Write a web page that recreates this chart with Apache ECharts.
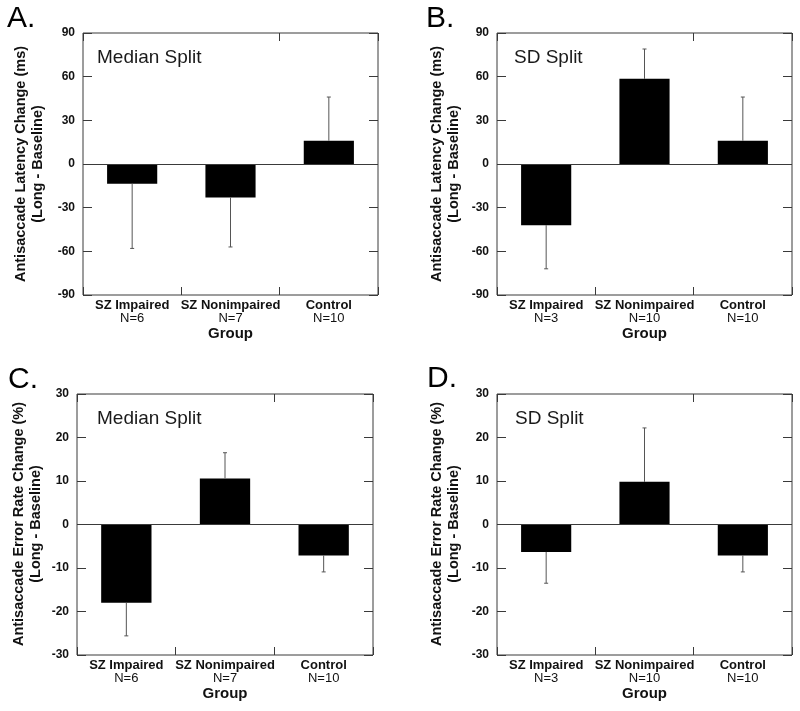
<!DOCTYPE html>
<html>
<head>
<meta charset="utf-8">
<script src="https://cdn.jsdelivr.net/npm/echarts@6/dist/echarts.min.js"></script>
<style>
html,body{margin:0;padding:0;background:#fff;}
#chart{width:800px;height:711px;}
</style>
</head>
<body>
<div id="chart"></div>
<script>
// ---- data ----
const groups = ['SZ Impaired', 'SZ Nonimpaired', 'Control'];
const nMedian = ['N=6', 'N=7', 'N=10'];
const nSD = ['N=3', 'N=10', 'N=10'];

const latencyMedianMean = [-13.5, -23, 16];
const latencyMedianErr = [44.5, 34, 30];
const latencySDMean = [-42, 58.5, 16];
const latencySDErr = [30, 20.5, 30];

const errorMedianMean = [-18, 10.6, -7.1];
const errorMedianErr = [7.6, 5.9, 3.8];
const errorSDMean = [-6.3, 9.8, -7.1];
const errorSDErr = [7.2, 12.4, 3.8];

const latencyAxis = { min: -90, max: 90, interval: 30 };
const errorAxis = { min: -30, max: 30, interval: 10 };

const panelLetters = ['A.', 'B.', 'C.', 'D.'];
const panelTitles = ['Median Split', 'SD Split', 'Median Split', 'SD Split'];
const yTitles = [
  'Antisaccade Latency Change (ms)\n(Long - Baseline)',
  'Antisaccade Latency Change (ms)\n(Long - Baseline)',
  'Antisaccade Error Rate Change (%)\n(Long - Baseline)',
  'Antisaccade Error Rate Change (%)\n(Long - Baseline)'
];
const xTitle = 'Group';

// ---- layout ----
const FONT = 'Liberation Sans, Arial, Helvetica, sans-serif';
const grids = [
  { left: 83, top: 33, width: 295, height: 262 },
  { left: 497, top: 33, width: 295, height: 262 },
  { left: 77, top: 394, width: 296, height: 261 },
  { left: 497, top: 394, width: 295, height: 261 }
];
const panels = [
  { mean: latencyMedianMean, err: latencyMedianErr, n: nMedian, axis: latencyAxis },
  { mean: latencySDMean, err: latencySDErr, n: nSD, axis: latencyAxis },
  { mean: errorMedianMean, err: errorMedianErr, n: nMedian, axis: errorAxis },
  { mean: errorSDMean, err: errorSDErr, n: nSD, axis: errorAxis }
];
const letterPos = [[7, 19], [426, 18.5], [8, 379.5], [427, 379]];
const titlePos = [[97, 57.5], [514, 57.5], [97, 419], [515, 419]];
const yTitlePos = [[29.5, 164], [445, 164], [27, 524], [445.5, 524]];

const lineColor = '#3a3a3a';
const textColor = '#111';

const option = {
  animation: false,
  backgroundColor: '#fff',
  grid: grids.map(g => Object.assign({ show: true, borderColor: lineColor, borderWidth: 1, backgroundColor: 'transparent' }, g)),
  xAxis: [],
  yAxis: [],
  series: [],
  graphic: []
};

panels.forEach((p, i) => {
  // bottom category axis with labels
  option.xAxis.push({
    type: 'category', gridIndex: i, data: groups, position: 'bottom',
    axisLine: { show: false, onZero: false },
    axisTick: { show: true, inside: true, length: 8, lineStyle: { color: lineColor } },
    axisLabel: {
      margin: 4,
      interval: 0,
      color: textColor,
      fontFamily: FONT,
      formatter: (v, idx) => '{b|' + v + '}\n{n|' + p.n[idx] + '}',
      rich: {
        b: { fontWeight: 'bold', fontSize: 13, lineHeight: 13, fontFamily: FONT, color: textColor },
        n: { fontSize: 13, lineHeight: 13, fontFamily: FONT, color: textColor }
      }
    },
    splitLine: { show: false }
  });
  // top category axis (ticks only)
  option.xAxis.push({
    type: 'category', gridIndex: i, data: groups, position: 'top',
    axisLine: { show: false, onZero: false },
    axisTick: { show: true, inside: true, length: 8, lineStyle: { color: lineColor } },
    axisLabel: { show: false },
    splitLine: { show: false }
  });
  // left value axis
  option.yAxis.push({
    type: 'value', gridIndex: i, position: 'left',
    min: p.axis.min, max: p.axis.max, interval: p.axis.interval,
    axisLine: { show: false },
    axisTick: { show: true, inside: true, length: 9, lineStyle: { color: lineColor } },
    axisLabel: { color: textColor, fontWeight: 'bold', fontSize: 12, fontFamily: FONT, margin: 8 },
    splitLine: { show: false }
  });
  // right value axis (ticks only)
  option.yAxis.push({
    type: 'value', gridIndex: i, position: 'right',
    min: p.axis.min, max: p.axis.max, interval: p.axis.interval,
    axisLine: { show: false },
    axisTick: { show: true, inside: true, length: 9, lineStyle: { color: lineColor } },
    axisLabel: { show: false },
    splitLine: { show: false }
  });

  const xi = i * 2, yi = i * 2;
  option.series.push({
    type: 'bar', xAxisIndex: xi, yAxisIndex: yi,
    data: p.mean,
    barWidth: '51%',
    itemStyle: { color: '#000' },
    z: 2,
    markLine: {
      silent: true, symbol: ['none', 'none'],
      label: { show: false },
      lineStyle: { color: lineColor, type: 'solid', width: 1 },
      data: [{ yAxis: 0 }]
    }
  });
  const errData = p.mean.map((m, k) => [k, m, m + Math.sign(m) * p.err[k]]);
  option.series.push({
    type: 'custom', xAxisIndex: xi, yAxisIndex: yi,
    data: errData, z: 3,
    renderItem: (params, api) => {
      const a = api.coord([api.value(0), api.value(1)]);
      const b = api.coord([api.value(0), api.value(2)]);
      const st = { stroke: '#555', lineWidth: 1 };
      return {
        type: 'group',
        children: [
          { type: 'line', shape: { x1: a[0], y1: a[1], x2: b[0], y2: b[1] }, style: st },
          { type: 'line', shape: { x1: b[0] - 2, y1: b[1], x2: b[0] + 2, y2: b[1] }, style: st }
        ]
      };
    }
  });

  // texts
  option.graphic.push({
    type: 'text', x: letterPos[i][0], y: letterPos[i][1],
    style: { text: panelLetters[i], font: '30px ' + FONT, fill: '#000', textAlign: 'left', textVerticalAlign: 'middle' }
  });
  option.graphic.push({
    type: 'text', x: titlePos[i][0], y: titlePos[i][1],
    style: { text: panelTitles[i], font: '19px ' + FONT, fill: '#1a1a1a', textAlign: 'left', textVerticalAlign: 'middle' }
  });
  option.graphic.push({
    type: 'text', x: yTitlePos[i][0], y: yTitlePos[i][1], rotation: Math.PI / 2,
    style: { text: yTitles[i], font: 'bold 14.5px ' + FONT, fill: textColor, textAlign: 'center', textVerticalAlign: 'middle', lineHeight: 17 }
  });
  const g = grids[i];
  option.graphic.push({
    type: 'text', x: g.left + g.width / 2, y: g.top + g.height + 39,
    style: { text: xTitle, font: 'bold 15px ' + FONT, fill: textColor, textAlign: 'center', textVerticalAlign: 'middle' }
  });
});

const chart = echarts.init(document.getElementById('chart'), null, { renderer: 'canvas' });
chart.setOption(option);
</script>
</body>
</html>
